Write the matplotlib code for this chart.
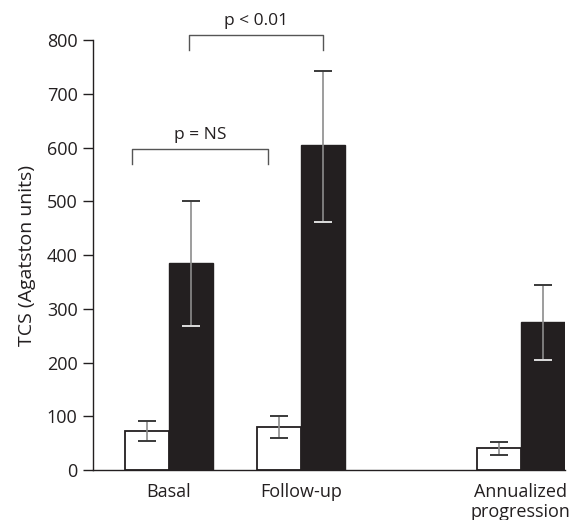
import numpy as np
import matplotlib.pyplot as plt

plt.rcParams['font.family'] = ['Open Sans', 'DejaVu Sans']

# TCS values per period: white = group 1, black = group 2
groups = ['Basal', 'Follow-up', 'Annualized\nprogression']
group_pos = np.array([0.0, 3.0, 8.0])

white_mean = [73, 80, 41]
white_lo = [55, 60, 28]
white_hi = [91, 100, 53]

black_mean = [386, 604, 276]
black_lo = [268, 461, 205]
black_hi = [501, 743, 344]

ink = '#231f20'
width = 1.0

fig = plt.figure(figsize=(5.7, 5.2), dpi=100)
ax = fig.add_axes([0.163, 0.096, 0.828, 0.827])

xw = group_pos - width / 2
xb = group_pos + width / 2
ax.bar(xw, white_mean, width, color='white', edgecolor=ink, linewidth=1.3, zorder=2)
ax.bar(xb, black_mean, width, color=ink, edgecolor=ink, linewidth=1.0, zorder=2)

def err(x, lo, hi, cap):
    ax.vlines(x, lo, hi, color='#8c8c8c', linewidth=1.2, zorder=3)
    ax.hlines(hi, x - cap, x + cap, color='#3a3a3a', linewidth=1.4, zorder=3)
    ax.hlines(lo, x - cap, x + cap, color='#3a3a3a', linewidth=1.4, zorder=3)

err(xw, white_lo, white_hi, 0.2)
err(xb, black_lo, black_hi, 0.2)
# lower caps inside the black bars show up light
ax.hlines(black_lo, xb - 0.2, xb + 0.2, color='#dddddd', linewidth=1.4, zorder=4)

# significance brackets
def bracket(x0, x1, top, drop, label):
    ax.plot([x0, x0, x1, x1], [top - drop, top, top, top - drop], color='#555555',
            linewidth=1.0, clip_on=False, zorder=3)
    ax.text((x0 + x1) / 2, top + 12, label, ha='center', va='bottom', fontsize=12.5,
            color=ink, clip_on=False)

bracket(-0.85, 2.25, 597, 27, 'p = NS')
bracket(0.45, 3.5, 809, 28, 'p < 0.01')

ax.set_xlim(-1.73, 9.0)
ax.set_ylim(0, 800)
ax.set_yticks(np.arange(0, 801, 100))
ax.set_xticks(group_pos)
ax.set_xticklabels(groups, fontsize=13, color=ink, linespacing=1.15)
ax.tick_params(axis='x', length=0, pad=9)
ax.tick_params(axis='y', length=7, width=1.0, color=ink, labelsize=13, labelcolor=ink, pad=4)
ax.set_ylabel('TCS (Agatston units)', fontsize=14, color=ink, labelpad=8)

for side in ['top', 'right']:
    ax.spines[side].set_visible(False)
for side in ['left', 'bottom']:
    ax.spines[side].set_color(ink)
    ax.spines[side].set_linewidth(1.0)

fig.savefig('out.png', dpi=100)
